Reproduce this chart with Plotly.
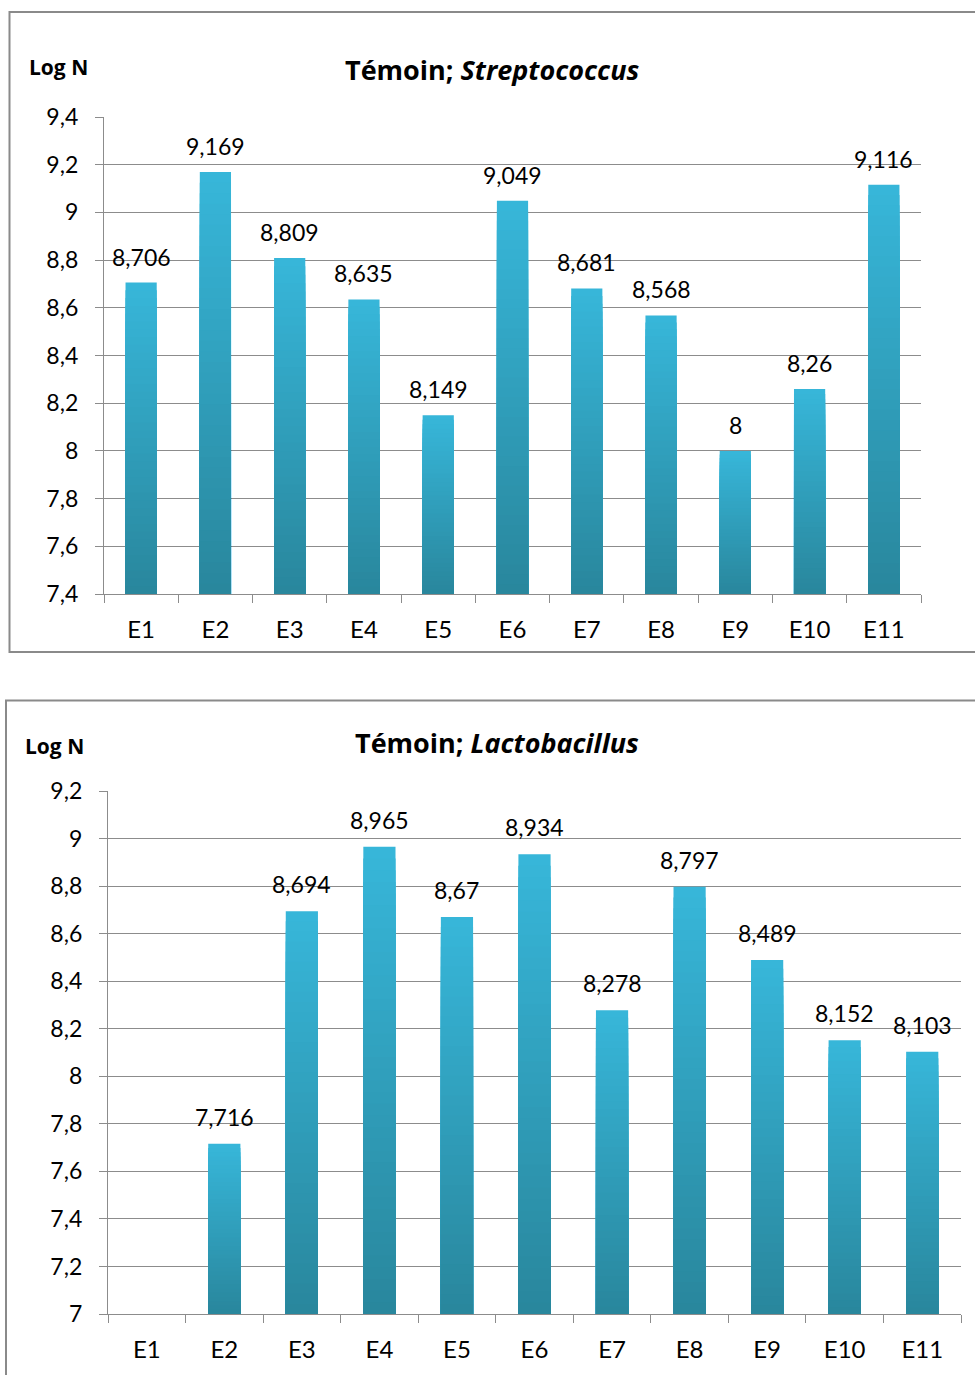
import plotly.graph_objects as go

categories = ["E1", "E2", "E3", "E4", "E5", "E6", "E7", "E8", "E9", "E10", "E11"]
strep_values = [8.706, 9.169, 8.809, 8.635, 8.149, 9.049, 8.681, 8.568, 8.0, 8.26, 9.116]
lacto_values = [None, 7.716, 8.694, 8.965, 8.67, 8.934, 8.278, 8.797, 8.489, 8.152, 8.103]

strep_ticks = [7.4, 7.6, 7.8, 8.0, 8.2, 8.4, 8.6, 8.8, 9.0, 9.2, 9.4]
strep_ticktext = ["7,4", "7,6", "7,8", "8", "8,2", "8,4", "8,6", "8,8", "9", "9,2", "9,4"]
lacto_ticks = [7.0, 7.2, 7.4, 7.6, 7.8, 8.0, 8.2, 8.4, 8.6, 8.8, 9.0, 9.2]
lacto_ticktext = ["7", "7,2", "7,4", "7,6", "7,8", "8", "8,2", "8,4", "8,6", "8,8", "9", "9,2"]

W, H = 975, 1375
FONT = "Lato"
TFONT = "Open Sans"
GRID = "#8c8c8c"
TOP_COL = (0x37, 0xB6, 0xD9)
BOT_COL = (0x29, 0x87, 0x9D)
N = 40


def fmt(v):
    if v is None:
        return None
    s = ("%.3f" % v).rstrip("0").rstrip(".")
    return s.replace(".", ",")


def px_x(p):
    return p / W


def px_y(p):
    return (H - p) / H


fig = go.Figure()


def add_bars(values, base, xa, ya, width):
    for k in range(N):
        t = k / (N - 1)
        c = tuple(round(TOP_COL[i] + (BOT_COL[i] - TOP_COL[i]) * t) for i in range(3))
        frac = (N - k) / N
        ys = [None if v is None else base + (v - base) * frac for v in values]
        fig.add_trace(go.Bar(
            x=categories, y=ys, width=width, xaxis=xa, yaxis=ya,
            marker=dict(color="rgb(%d,%d,%d)" % c, line=dict(width=0)),
            showlegend=False, hoverinfo="skip",
        ))


add_bars(strep_values, 7.4, "x", "y", 0.42)
add_bars(lacto_values, 7.0, "x2", "y2", 0.415)

annotations = []
for cat, v in zip(categories, strep_values):
    if v is not None:
        annotations.append(dict(x=cat, y=v, xref="x", yref="y", text=fmt(v), showarrow=False,
                                yanchor="bottom", yshift=10, font=dict(family=FONT, size=23, color="black")))
for cat, v in zip(categories, lacto_values):
    if v is not None:
        annotations.append(dict(x=cat, y=v, xref="x2", yref="y2", text=fmt(v), showarrow=False,
                                yanchor="bottom", yshift=11, font=dict(family=FONT, size=23, color="black")))

annotations += [
    dict(x=px_x(492), y=px_y(69), xref="paper", yref="paper", xanchor="center", yanchor="middle",
         text="<b>Témoin; <i>Streptococcus</i></b>", showarrow=False,
         font=dict(family=TFONT, size=27, color="black")),
    dict(x=px_x(27), y=px_y(67), xref="paper", yref="paper", xanchor="left", yanchor="middle",
         text="<b>Log N</b>", showarrow=False, font=dict(family=TFONT, size=21, color="black")),
    dict(x=px_x(497), y=px_y(742), xref="paper", yref="paper", xanchor="center", yanchor="middle",
         text="<b>Témoin; <i>Lactobacillus</i></b>", showarrow=False,
         font=dict(family=TFONT, size=27, color="black")),
    dict(x=px_x(23), y=px_y(746), xref="paper", yref="paper", xanchor="left", yanchor="middle",
         text="<b>Log N</b>", showarrow=False, font=dict(family=TFONT, size=21, color="black")),
]

shapes = [
    dict(type="rect", xref="paper", yref="paper", x0=px_x(9.5), x1=px_x(1100), y0=px_y(652), y1=px_y(12),
         line=dict(color="#8a8a8a", width=2), fillcolor="rgba(0,0,0,0)", layer="below"),
    dict(type="rect", xref="paper", yref="paper", x0=px_x(6), x1=px_x(1100), y0=px_y(1500), y1=px_y(700.5),
         line=dict(color="#8a8a8a", width=2), fillcolor="rgba(0,0,0,0)", layer="below"),
]

tickfont = dict(family=FONT, size=23, color="black")
xtickfont = dict(family=FONT, size=24, color="black")

xcommon = dict(type="category", showline=True, linecolor=GRID, linewidth=1.3, ticks="outside",
               tickson="boundaries", ticklen=8, tickcolor=GRID, tickwidth=1.3, showgrid=False,
               tickfont=xtickfont, ticklabelstandoff=14, fixedrange=True, automargin=False)
ycommon = dict(showline=True, linecolor=GRID, linewidth=1.3, ticks="outside", ticklen=8,
               tickcolor=GRID, tickwidth=1.3, showgrid=True, gridcolor=GRID, gridwidth=1.3,
               zeroline=False, tickfont=tickfont, ticklabelstandoff=12, fixedrange=True, automargin=False)

fig.update_layout(
    width=W, height=H,
    margin=dict(l=0, r=0, t=0, b=0, pad=0, autoexpand=False),
    paper_bgcolor="white", plot_bgcolor="white",
    barmode="overlay",
    bargap=0.58,
    xaxis=dict(domain=[px_x(104), px_x(921)], anchor="y", **xcommon),
    yaxis=dict(domain=[px_y(594), px_y(117)], anchor="x", range=[7.4, 9.4],
               tickvals=strep_ticks, ticktext=strep_ticktext, **ycommon),
    xaxis2=dict(domain=[px_x(108), px_x(961)], anchor="y2", **xcommon),
    yaxis2=dict(domain=[px_y(1314), px_y(791)], anchor="x2", range=[7.0, 9.2],
                tickvals=lacto_ticks, ticktext=lacto_ticktext, **ycommon),
    annotations=annotations,
    shapes=shapes,
    showlegend=False,
)

fig.write_html("out.html")
